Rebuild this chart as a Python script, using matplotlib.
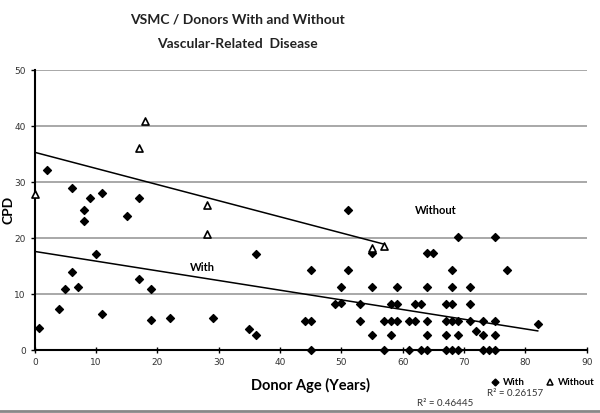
import numpy as np
import matplotlib
matplotlib.use("Agg")
import matplotlib.pyplot as plt
from matplotlib.lines import Line2D

# ---- data ----
with_age = [0.7, 4, 5, 6, 7, 8, 8, 10, 11, 15, 17, 19, 19, 22, 9, 2, 6, 11, 17,
            51, 55, 36, 45, 51, 50, 55, 49, 50, 53, 29, 44, 45, 53, 35, 36, 55, 45,
            69, 75, 64, 65, 68, 77,
            59, 64, 68, 71,
            58, 59, 62, 63, 67, 68, 71,
            57, 58, 59, 61, 62, 64, 67, 68, 69, 71, 73, 75,
            82,
            58, 64, 67, 69, 73, 75, 72,
            57, 61, 63, 64, 67, 68, 69, 73, 74, 75]
with_cpd = [4.0, 7.3, 10.9, 13.9, 11.2, 25.0, 23.0, 17.1, 6.4, 24.0, 12.7, 10.9, 5.4, 5.8, 27.1, 32.1, 29.0, 28.0, 27.1,
            25.0, 17.3, 17.1, 14.2, 14.2, 11.2, 11.2, 8.2, 8.45, 8.2, 5.8, 5.2, 5.2, 5.1, 3.8, 2.6, 2.6, 0.0,
            20.2, 20.2, 17.3, 17.3, 14.2, 14.2,
            11.2, 11.2, 11.2, 11.2,
            8.2, 8.2, 8.2, 8.2, 8.2, 8.2, 8.2,
            5.2, 5.2, 5.2, 5.2, 5.2, 5.2, 5.2, 5.2, 5.2, 5.2, 5.2, 5.2,
            4.6,
            2.6, 2.6, 2.6, 2.6, 2.6, 2.6, 3.4,
            0, 0, 0, 0, 0, 0, 0, 0, 0, 0]
without_age = [0, 18, 17, 28, 28, 55, 57]
without_cpd = [27.8, 40.9, 36.0, 25.9, 20.7, 18.2, 18.5]

# trend lines: (x start, x end, intercept, slope)
with_trend = [0, 82, 17.6, -0.173]
without_trend = [0, 57, 35.3, -0.288]
r2_labels = ["R\u00b2 = 0.46445", "R\u00b2 = 0.26157"]

x_ticks = list(range(0, 91, 10))
y_ticks = list(range(0, 51, 10))

TFONT = ["Lato", "DejaVu Sans"]

fig = plt.figure(figsize=(6, 4.13), dpi=100)
ax = fig.add_axes([0.058, 0.1525, 0.92, 0.678])

ax.set_xlim(0, 90)
ax.set_ylim(0, 50)
ax.set_xticks(x_ticks)
ax.set_yticks(y_ticks)
ax.tick_params(labelsize=6.5, colors="black", length=3, width=1)
ax.tick_params(axis="x", direction="inout", length=4)
for lab in ax.get_xticklabels() + ax.get_yticklabels():
    lab.set_color("#333333")
ax.grid(axis="y", color="#9a9a9a", linewidth=1.2)
ax.set_axisbelow(True)
for s in ["top", "right"]:
    ax.spines[s].set_visible(False)
for s in ["left", "bottom"]:
    ax.spines[s].set_linewidth(1.5)
    ax.spines[s].set_color("black")
    ax.spines[s].set_zorder(1)

ax.scatter(with_age, with_cpd, marker="D", s=16, color="black", zorder=3, clip_on=False)
ax.scatter(without_age, without_cpd, marker="^", s=26, facecolor="white",
           edgecolor="black", linewidth=1.2, zorder=3, clip_on=False)

for tr in (with_trend, without_trend):
    xs = np.array([tr[0], tr[1]])
    ax.plot(xs, tr[2] + tr[3] * xs, color="black", linewidth=1.1, zorder=2)

ax.text(25.3, 14.8, "With", fontsize=8, fontweight="bold", family=TFONT, va="center")
ax.text(62, 25.0, "Without", fontsize=8, fontweight="bold", family=TFONT, va="center")

ax.set_xlabel("Donor Age (Years)", fontsize=10.5, fontweight="bold", family=TFONT, labelpad=8)
ax.set_ylabel("CPD", fontsize=10, fontweight="bold", family=TFONT)
ax.yaxis.set_label_coords(-0.036, 0.5)

fig.text(0.395, 0.952, "VSMC / Donors With and Without", ha="center", va="center",
         fontsize=10, fontweight="bold", family=TFONT, color="#222222")
fig.text(0.395, 0.893, "Vascular-Related  Disease", ha="center", va="center",
         fontsize=10, fontweight="bold", family=TFONT, color="#222222")

handles = [Line2D([], [], marker="D", color="black", linestyle="none", markersize=3.5),
           Line2D([], [], marker="^", markerfacecolor="white", markeredgecolor="black",
                  markeredgewidth=1.1, linestyle="none", markersize=5)]
fig.legend(handles, ["With", "Without"], loc="center", bbox_to_anchor=(0.905, 0.073),
           ncol=2, frameon=False, prop={"family": TFONT, "weight": "bold", "size": 7},
           handlelength=0.8, handletextpad=0.4, columnspacing=2.2)

fig.text(0.742, 0.024, r2_labels[0], fontsize=7, color="#333333", family=TFONT, ha="center", va="center")
fig.text(0.858, 0.048, r2_labels[1], fontsize=7, color="#333333", family=TFONT, ha="center", va="center")

fig.add_artist(Line2D([0, 1], [0.004, 0.004], color="#888888", linewidth=2, transform=fig.transFigure))

fig.savefig("out.png", dpi=100)
